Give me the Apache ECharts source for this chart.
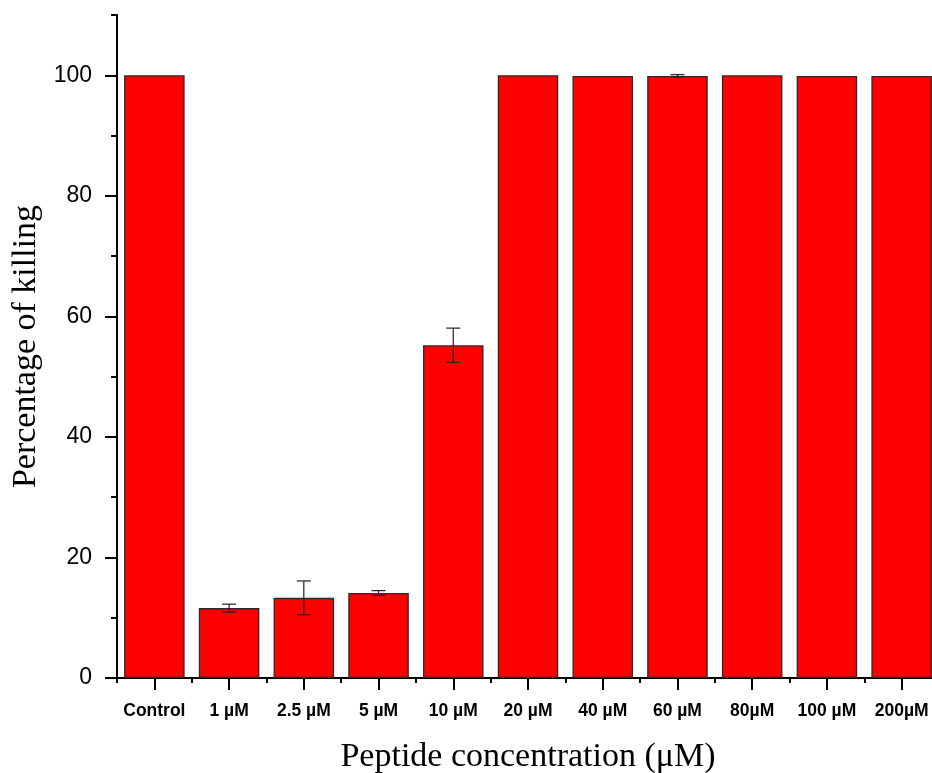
<!DOCTYPE html>
<html>
<head>
<meta charset="utf-8">
<script src="https://cdn.jsdelivr.net/npm/echarts@6/dist/echarts.min.js"></script>
<style>
  html, body { margin: 0; padding: 0; background: #fff; }
  #chart { width: 932px; height: 773px; }
</style>
</head>
<body>
<div id="chart"></div>
<script>
// Peptide killing assay: mean percentage of killing and its error per concentration
const categories = ['Control', '1 µM', '2.5 µM', '5 µM', '10 µM', '20 µM', '40 µM', '60 µM', '80µM', '100 µM', '200µM'];
const killing = [100, 11.6, 13.3, 14.1, 55.2, 100, 99.9, 99.9, 100, 99.9, 99.9];
const errors = [0, 0.65, 2.8, 0.4, 2.85, 0, 0, 0.2, 0, 0, 0];
const yMajorTicks = [0, 20, 40, 60, 80, 100];
const yMinorTicks = [10, 30, 50, 70, 90, 110];

const chart = echarts.init(document.getElementById('chart'), null, { renderer: 'canvas' });

const errorData = killing.map((v, i) => [i, v - errors[i], v + errors[i]]);

chart.setOption({
  backgroundColor: '#ffffff',
  animation: false,
  grid: { left: 117, top: 15, width: 822, height: 663, containLabel: false, outerBoundsMode: 'none' },
  xAxis: [
    {
      type: 'category',
      data: categories,
      position: 'bottom',
      axisLine: { show: true, lineStyle: { color: '#000', width: 2 } },
      axisTick: { show: true, alignWithLabel: true, length: 12, lineStyle: { color: '#000', width: 2 } },
      axisLabel: {
        interval: 0, margin: 24, color: '#000',
        fontFamily: 'Liberation Sans, Arial, sans-serif', fontWeight: 'bold', fontSize: 17.5
      },
      name: 'Peptide concentration (μM)',
      nameLocation: 'middle',
      nameGap: 62,
      nameTextStyle: { fontFamily: 'Liberation Serif, Times New Roman, serif', fontSize: 34, color: '#000' }
    },
    {
      // short ticks on the category boundaries
      type: 'category',
      data: categories,
      position: 'bottom',
      axisLine: { show: false },
      axisTick: { show: true, alignWithLabel: false, length: 5, lineStyle: { color: '#000', width: 2 } },
      axisLabel: { show: false }
    }
  ],
  yAxis: [
    {
      type: 'value',
      min: 0, max: 110,
      position: 'left',
      splitLine: { show: false },
      axisLine: { show: true, lineStyle: { color: '#000', width: 2 } },
      axisTick: { show: true, length: 12, customValues: yMajorTicks, lineStyle: { color: '#000', width: 2 } },
      axisLabel: {
        customValues: yMajorTicks, margin: 25, color: '#000',
        fontFamily: 'Liberation Sans, Arial, sans-serif', fontSize: 23
      },
      name: 'Percentage of killing',
      nameLocation: 'middle',
      nameRotate: 90,
      nameGap: 69,
      nameTextStyle: { fontFamily: 'Liberation Serif, Times New Roman, serif', fontSize: 34, color: '#000' }
    },
    {
      // minor ticks between the labelled values
      type: 'value',
      min: 0, max: 110,
      position: 'left',
      splitLine: { show: false },
      axisLine: { show: false },
      axisTick: { show: true, length: 6, customValues: yMinorTicks, lineStyle: { color: '#000', width: 2 } },
      axisLabel: { show: false }
    }
  ],
  series: [
    {
      type: 'bar',
      data: killing,
      barCategoryGap: '19%',
      itemStyle: { color: '#ff0000', borderColor: '#2a2a2a', borderWidth: 1.3 },
      z: 2
    },
    {
      type: 'custom',
      data: errorData,
      z: 3,
      renderItem: function (params, api) {
        const i = api.value(0);
        const lo = api.coord([i, api.value(1)]);
        const hi = api.coord([i, api.value(2)]);
        const half = 7;
        const style = { stroke: '#222', lineWidth: 1.2 };
        if (api.value(2) - api.value(1) <= 0) return null;
        return {
          type: 'group',
          children: [
            { type: 'line', shape: { x1: hi[0], y1: hi[1], x2: lo[0], y2: lo[1] }, style: style },
            { type: 'line', shape: { x1: hi[0] - half, y1: hi[1], x2: hi[0] + half, y2: hi[1] }, style: style },
            { type: 'line', shape: { x1: lo[0] - half, y1: lo[1], x2: lo[0] + half, y2: lo[1] }, style: style }
          ]
        };
      }
    }
  ]
});
</script>
</body>
</html>
